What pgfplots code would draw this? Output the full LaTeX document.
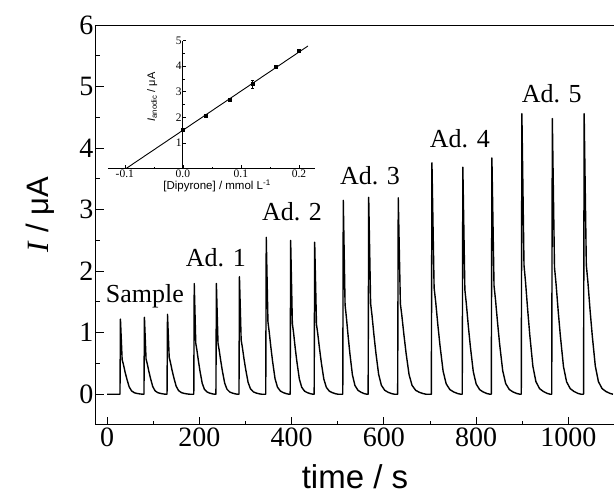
\documentclass[border=0pt]{standalone}
\usepackage{fontspec}
\setmainfont{Liberation Serif}
\newfontfamily\arial{Liberation Sans}
\usepackage{pgfplots}
\pgfplotsset{compat=1.18}

\begin{document}
\begin{tikzpicture}
\begin{axis}[
  name=main,
  scale only axis,
  width=518pt, height=400pt,
  xmin=-24, xmax=1099,
  ymin=-0.5, ymax=6,
  axis x line*=box, axis y line*=left,
  xtick pos=left,
  tick align=inside,
  xtick={0,200,...,1000}, ytick={0,...,6},
  minor x tick num=1, minor y tick num=1,
  major tick length=8pt, minor tick length=4pt,
  every tick/.style={black, line width=0.9pt},
  axis line style={black, line width=1pt},
  /pgf/number format/assume math mode=true,
  /pgf/number format/1000 sep={},
  ticklabel style={font=\fontsize{28}{28}\selectfont},
  yticklabel style={xshift=1pt},
  xticklabel style={yshift=1pt},
  xlabel={\arial time / s},
  ylabel={\textit{I}\arial\ / μA},
  xlabel style={font=\fontsize{33}{33}\selectfont, at={(axis description cs:0.5,-0.16)}, anchor=base},
  ylabel style={font=\fontsize{31}{31}\selectfont, at={(axis description cs:-0.108,0.525)}, anchor=center},
]
% amperogram
\addplot[black, line width=1.4pt, line join=round] coordinates {
(0,0)
(28,0) (29,1.22) (32.7,0.561) (35.3,0.488) (38.9,0.366) (42.6,0.256) (47.8,0.122) (53,0.055) (59.2,0.024) (65.4,0.012) (72.2,0.004) (77.4,0)
(80,0) (81,1.25) (84.5,0.575) (87,0.5) (90.5,0.375) (94,0.263) (99,0.125) (104,0.056) (110,0.025) (116,0.013) (122.5,0.004) (127.5,0)
(130,0) (131,1.3) (134.7,0.598) (137.3,0.52) (140.9,0.39) (144.6,0.273) (149.8,0.13) (155,0.059) (161.2,0.026) (167.4,0.013) (174.2,0.004) (179.4,0)
(188,0) (189,1.8) (192.3,0.828) (194.7,0.72) (198.1,0.54) (201.4,0.378) (206.2,0.18) (211,0.081) (216.8,0.036) (222.6,0.018) (228.8,0.005) (233.6,0)
(236,0) (237,1.8) (240.5,0.828) (243,0.72) (246.5,0.54) (250,0.378) (255,0.18) (260,0.081) (266,0.036) (272,0.018) (278.5,0.005) (283.5,0)
(286,0) (287,1.91) (290.7,0.879) (293.3,0.764) (296.9,0.573) (300.6,0.401) (305.8,0.191) (311,0.086) (317.2,0.038) (323.4,0.019) (330.2,0.006) (335.4,0)
(344,0) (345.1,2.55) (348.8,1.173) (351.4,1.02) (355.1,0.765) (358.8,0.536) (364.1,0.255) (369.4,0.115) (375.8,0.051) (382.2,0.026) (389.1,0.008) (394.4,0)
(397,0) (398,2.5) (401.7,1.15) (404.3,1.0) (407.9,0.75) (411.6,0.525) (416.8,0.25) (422,0.113) (428.2,0.05) (434.4,0.025) (441.2,0.008) (446.4,0)
(449,0) (450.1,2.47) (454,1.136) (456.7,0.988) (460.6,0.741) (464.4,0.519) (469.9,0.247) (475.4,0.111) (482,0.049) (488.6,0.025) (495.8,0.007) (501.3,0)
(511,0) (512.1,3.15) (516,1.449) (518.7,1.26) (522.6,0.945) (526.4,0.662) (531.9,0.315) (537.4,0.142) (544,0.063) (550.6,0.032) (557.8,0.009) (563.3,0)
(566,0) (567.2,3.2) (571.4,1.472) (574.4,1.28) (578.6,0.96) (582.8,0.672) (588.8,0.32) (594.8,0.144) (602,0.064) (609.2,0.032) (617,0.01) (623,0)
(630,0) (631.3,3.19) (635.9,1.467) (639.1,1.276) (643.7,0.957) (648.2,0.67) (654.7,0.319) (661.2,0.144) (669,0.064) (676.8,0.032) (685.3,0.01) (691.8,0)
(703,0) (704.3,3.76) (709,1.73) (712.4,1.504) (717.1,1.128) (721.8,0.79) (728.5,0.376) (735.2,0.169) (743.2,0.075) (751.2,0.038) (760,0.011) (766.7,0)
(770,0) (771.3,3.69) (775.7,1.697) (778.8,1.476) (783.2,1.107) (787.6,0.775) (793.9,0.369) (800.2,0.166) (807.8,0.074) (815.4,0.037) (823.6,0.011) (829.9,0)
(833,0) (834.3,3.84) (838.9,1.766) (842.1,1.536) (846.7,1.152) (851.2,0.806) (857.7,0.384) (864.2,0.173) (872,0.077) (879.8,0.038) (888.3,0.012) (894.8,0)
(898,0) (899.3,4.56) (903.9,2.098) (907.2,1.824) (911.9,1.368) (916.5,0.958) (923.1,0.456) (929.7,0.205) (937.6,0.091) (945.5,0.046) (954.1,0.014) (960.7,0)
(964,0) (965.3,4.48) (970,2.061) (973.4,1.792) (978.1,1.344) (982.8,0.941) (989.5,0.448) (996.2,0.202) (1004.2,0.09) (1012.2,0.045) (1021,0.013) (1027.7,0)
(1033,0) (1034.3,4.56) (1039,2.098) (1042.4,1.824) (1047.1,1.368) (1051.8,0.958) (1058.5,0.456) (1065.2,0.205) (1073.2,0.091) (1081.2,0.046) (1090,0.014) (1096.7,0)
};
\node[font=\fontsize{26}{26}\selectfont] at (axis cs:82,1.59) {Sample};
\node[font=\fontsize{26}{26}\selectfont] at (axis cs:236,2.22) {Ad. 1};
\node[font=\fontsize{26}{26}\selectfont] at (axis cs:401,2.96) {Ad. 2};
\node[font=\fontsize{26}{26}\selectfont] at (axis cs:570,3.55) {Ad. 3};
\node[font=\fontsize{26}{26}\selectfont] at (axis cs:765,4.15) {Ad. 4};
\node[font=\fontsize{26}{26}\selectfont] at (axis cs:964,4.89) {Ad. 5};
\end{axis}

% inset: calibration curve
\begin{axis}[
  at={(main.south west)}, anchor=south west,
  xshift=12pt, yshift=256.4pt,
  scale only axis,
  width=207pt, height=128pt,
  xmin=-0.129, xmax=0.2276, ymin=0, ymax=5,
  axis x line*=middle, axis y line*=middle,
  hide obscured x ticks=false,
  tick align=inside,
  xtick={-0.1,0,0.1,0.2}, ytick={1,...,5},
  minor x tick num=1, minor y tick num=1,
  major tick length=3.5pt, minor tick length=2pt,
  every tick/.style={black, line width=0.6pt},
  axis line style={black, line width=0.8pt},
  /pgf/number format/assume math mode=true,
  xticklabel style={/pgf/number format/.cd, fixed, fixed zerofill, precision=1},
  ticklabel style={font=\fontsize{11.5}{11.5}\selectfont, inner sep=1pt},
  xlabel={\arial [Dipyrone] / mmol L\textsuperscript{-1}},
  ylabel={\arial\textit{I}\textsubscript{anodic} / μA},
  xlabel style={font=\fontsize{11.5}{11.5}\selectfont, at={(axis description cs:0.527,-0.135)}, anchor=center},
  ylabel style={font=\fontsize{11}{11}\selectfont, at={(axis description cs:0.213,0.56)}, anchor=center, rotate=0},
]
\addplot[black, line width=0.9pt] coordinates {(-0.098,0) (0.2155,4.79)};
\addplot[only marks, mark=square*, mark size=1.5pt, black,
  error bars/.cd, y dir=both, y explicit,
  error bar style={line width=0.6pt}, error mark options={rotate=90, mark size=1.2pt}]
  coordinates {
  (0,1.51) +- (0,0.05)
  (0.04,2.08) +- (0,0.04)
  (0.08,2.68) +- (0,0.06)
  (0.12,3.30) +- (0,0.15)
  (0.16,3.98) +- (0,0.05)
  (0.2,4.59) +- (0,0.06)
};
\end{axis}

\pgfresetboundingbox
\path[use as bounding box] (main.south west) ++(-96pt,-72pt) rectangle ++(614pt,497pt);
\end{tikzpicture}
\end{document}
